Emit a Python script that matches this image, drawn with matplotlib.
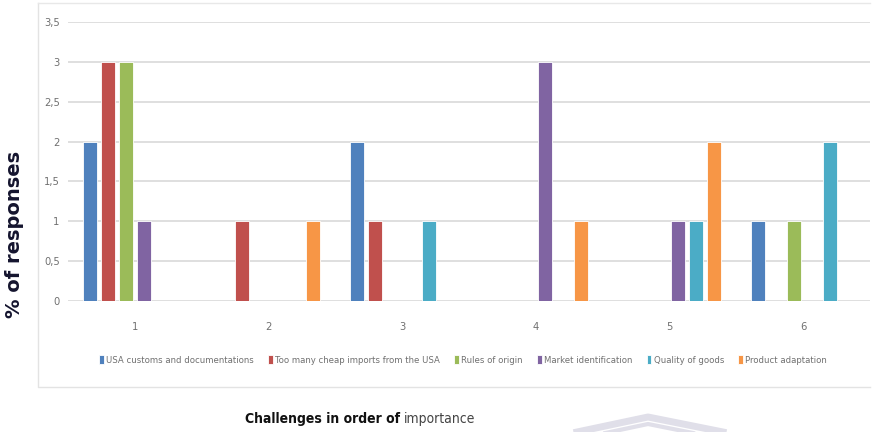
import numpy as np
import matplotlib.pyplot as plt
from matplotlib.lines import Line2D

# challenge rank (x categories)
ranks = ["1", "2", "3", "4", "5", "6"]

# responses per challenge, by rank
usa_customs = [2, 0, 2, 0, 0, 1]
cheap_imports = [3, 1, 1, 0, 0, 0]
rules_origin = [3, 0, 0, 0, 0, 1]
market_ident = [1, 0, 0, 3, 1, 0]
quality_goods = [0, 0, 1, 0, 1, 2]
product_adapt = [0, 1, 0, 1, 2, 0]

series_names = ["USA customs and documentations", "Too many cheap imports from the USA",
                "Rules of origin", "Market identification", "Quality of goods",
                "Product adaptation"]
series_vals = [usa_customs, cheap_imports, rules_origin, market_ident,
               quality_goods, product_adapt]
colors = ["#4F81BD", "#C0504D", "#9BBB59", "#8064A2", "#4BACC6", "#F79646"]

yticks = [0, 0.5, 1, 1.5, 2, 2.5, 3, 3.5]
ytick_labels = ["0", "0,5", "1", "1,5", "2", "2,5", "3", "3,5"]

cond = dict(family="DejaVu Sans", stretch="condensed")

fig = plt.figure(figsize=(8.74, 4.32), dpi=100)
ax = fig.add_axes([68 / 874, 1 - 301 / 432, (870 - 68) / 874, (301 - 22) / 432])

x = np.arange(1, len(ranks) + 1)
step = 0.134
width = 0.105
for i, (name, vals, c) in enumerate(zip(series_names, series_vals, colors)):
    ax.bar(x + (i - 2.5) * step, vals, width, color=c, edgecolor="white",
           linewidth=0.6, label=name, zorder=3)

ax.set_xlim(0.5, 6.5)
ax.set_ylim(0, 3.5)
ax.set_yticks(yticks)
ax.set_yticklabels(ytick_labels, fontsize=8, color="#707070", **cond)
ax.set_xticks(x)
ax.set_xticklabels(ranks, fontsize=8, color="#707070", **cond)
ax.tick_params(axis="both", length=0)
ax.tick_params(axis="x", pad=15)
ax.tick_params(axis="y", pad=6)
ax.grid(axis="y", color="#d9d9d9", linewidth=1.2, zorder=0)
for s in ax.spines.values():
    s.set_visible(False)

leg = fig.legend(loc="center", bbox_to_anchor=(463 / 874, 1 - 360 / 432), ncol=6,
                 frameon=False, prop=dict(size=6.8, **cond),
                 handlelength=0.5, handleheight=1.0, handletextpad=0.25,
                 columnspacing=1.5)
for t in leg.get_texts():
    t.set_color("#707070")

fig.text(15 / 874, 1 - 234 / 432, "% of responses", rotation=90, ha="center",
         va="center", fontsize=14, fontweight="bold", color="#14142e",
         family="DejaVu Sans")

# title in two tones, placed side by side
t1 = fig.text(0, 1 - 419 / 432, "Challenges in order of ", ha="left", va="center",
              fontsize=10, fontweight="bold", color="#111111", **cond)
t2 = fig.text(0, 1 - 419 / 432, "importance", ha="left", va="center",
              fontsize=10, color="#444444", **cond)
r = fig.canvas.get_renderer()
w1 = t1.get_window_extent(r).width
w2 = t2.get_window_extent(r).width
x0 = 360 - (w1 + w2) / 2
t1.set_x(x0 / 874)
t2.set_x((x0 + w1) / 874)

# light frame around the chart area
fig.add_artist(Line2D([38 / 874, 38 / 874, 870 / 874],
                      [1 - 3 / 432, 1 - 387 / 432, 1 - 387 / 432],
                      color="#e3e3e3", linewidth=1, transform=fig.transFigure))
fig.add_artist(Line2D([38 / 874, 870 / 874], [1 - 3 / 432, 1 - 3 / 432],
                      color="#e8e8e8", linewidth=1, transform=fig.transFigure))

# faint watermark chevrons
for dy, lw in ((0, 5), (7, 3)):
    fig.add_artist(Line2D([577 / 874, 648 / 874, 723 / 874],
                          [1 - (432 + dy) / 432, 1 - (417 + dy) / 432, 1 - (432 + dy) / 432],
                          color="#e0dfe9", linewidth=lw, transform=fig.transFigure))

fig.savefig("out.png", dpi=100)
